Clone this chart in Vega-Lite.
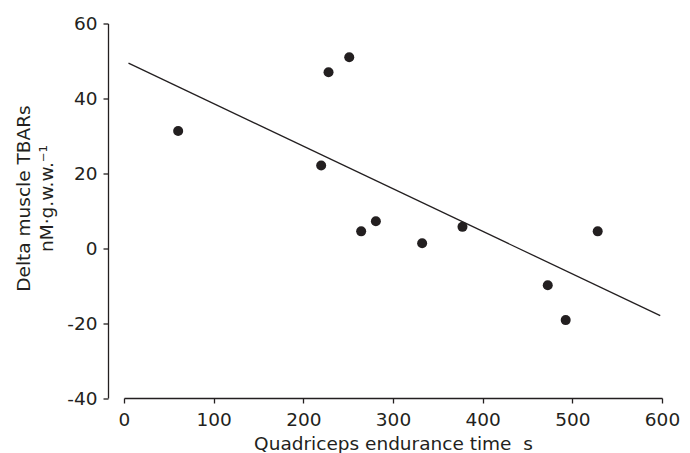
{
  "$schema": "https://vega.github.io/schema/vega-lite/v6.json",
  "width": 538,
  "height": 374.5,
  "autosize": {"type": "none"},
  "padding": {"left": 124, "top": 23.5, "right": 28, "bottom": 55},
  "background": "white",
  "config": {
    "view": {"stroke": null},
    "font": "DejaVu Sans",
    "axis": {
      "domainColor": "#231f20",
      "tickColor": "#231f20",
      "labelColor": "#231f20",
      "titleColor": "#231f20",
      "labelFont": "DejaVu Sans",
      "titleFont": "DejaVu Sans",
      "labelFontSize": 18.5,
      "titleFontSize": 18.5,
      "titleFontWeight": "normal",
      "grid": false,
      "tickSize": 5,
      "domainWidth": 1.3,
      "tickWidth": 1.3
    }
  },
  "datasets": {
    "points": [
      {"time": 60.4, "tbars": 31.3},
      {"time": 219.9, "tbars": 22.1},
      {"time": 228.1, "tbars": 47.0},
      {"time": 251.2, "tbars": 51.0},
      {"time": 264.5, "tbars": 4.5},
      {"time": 280.9, "tbars": 7.2},
      {"time": 332.5, "tbars": 1.3},
      {"time": 377.5, "tbars": 5.7},
      {"time": 472.6, "tbars": -9.9},
      {"time": 492.6, "tbars": -19.2},
      {"time": 528.3, "tbars": 4.5}
    ],
    "fit": [
      {"time": 5, "tbars": 49.4},
      {"time": 598, "tbars": -18.0}
    ]
  },
  "layer": [
    {
      "data": {"name": "fit"},
      "mark": {"type": "line", "color": "#231f20", "strokeWidth": 1.3},
      "encoding": {
        "x": {"field": "time", "type": "quantitative"},
        "y": {"field": "tbars", "type": "quantitative"}
      }
    },
    {
      "data": {"name": "points"},
      "mark": {"type": "point", "filled": true, "opacity": 1, "color": "#231f20", "size": 100},
      "encoding": {
        "x": {
          "field": "time",
          "type": "quantitative",
          "scale": {"domain": [0, 600], "nice": false, "zero": false},
          "axis": {
            "values": [0, 100, 200, 300, 400, 500, 600],
            "labelExpr": "'' + datum.value",
            "labelFlush": false,
            "labelOverlap": false,
            "title": "Quadriceps endurance time\u00a0\u00a0s",
            "labelPadding": 7,
            "titlePadding": 6
          }
        },
        "y": {
          "field": "tbars",
          "type": "quantitative",
          "scale": {"domain": [-40, 60], "nice": false, "zero": false},
          "axis": {
            "values": [-40, -20, 0, 20, 40, 60],
            "labelExpr": "'' + datum.value",
            "labelFlush": false,
            "labelOverlap": false,
            "offset": 16,
            "labelPadding": 6,
            "title": ["Delta muscle TBARs", "nM·g.w.w.⁻¹"],
            "titleLineHeight": 23,
            "titlePadding": 10,
            "titleY": 174.5
          }
        }
      }
    }
  ]
}
